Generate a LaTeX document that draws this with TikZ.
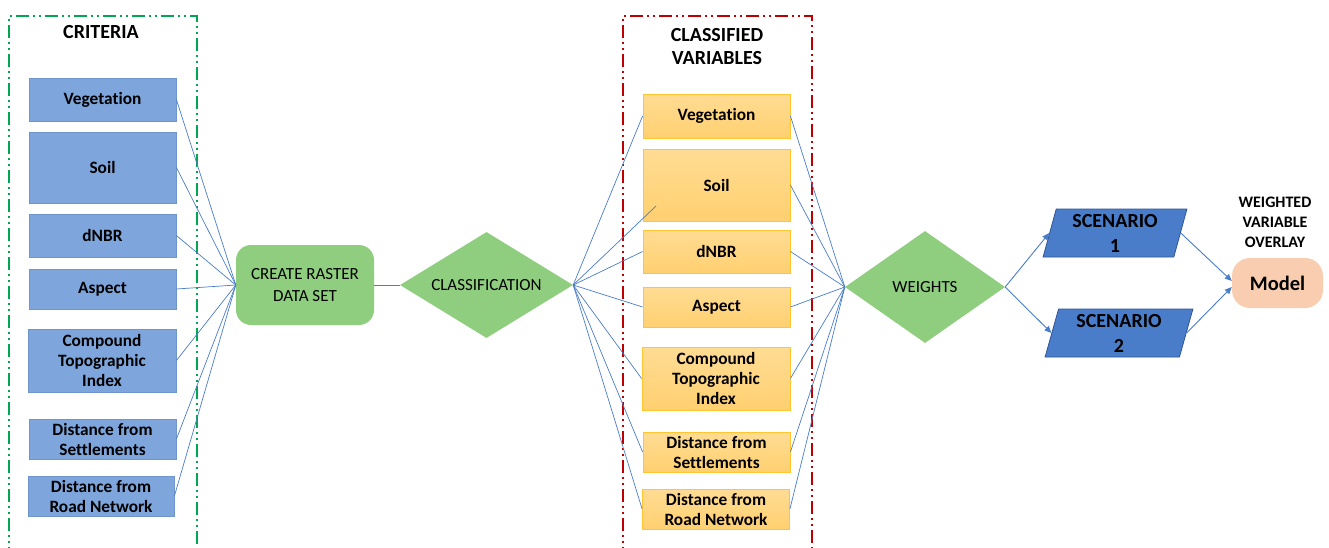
\documentclass[tikz,border=0pt]{standalone}
\usepackage{fontspec}
\setmainfont{Carlito}[Ligatures=NoCommon]
\usetikzlibrary{shapes.geometric,arrows.meta}
\definecolor{critblue}{HTML}{7EA6DC}
\definecolor{critborder}{HTML}{6E96CC}
\definecolor{classorange}{HTML}{FFD070}
\definecolor{classborder}{HTML}{FFC631}
\definecolor{procgreen}{HTML}{8FCE7F}
\definecolor{scenblue}{HTML}{4A7DC9}
\definecolor{scenborder}{HTML}{2F5597}
\definecolor{modelpeach}{HTML}{F8CDB0}
\definecolor{linkblue}{HTML}{4A7DC9}
\definecolor{framegreen}{HTML}{00A651}
\definecolor{framered}{HTML}{C00000}
\tikzset{
  x=1pt, y=-1pt,
  boxlabel/.style={font=\fontsize{17.3}{20}\selectfont\bfseries, align=center, inner sep=0pt},
  critbox/.style={boxlabel, rectangle, fill=critblue, draw=critborder, line width=0.8pt},
  classbox/.style={boxlabel, rectangle, top color=classorange!75!white, bottom color=classorange, draw=classborder, line width=0.8pt},
  proc/.style={font=\fontsize{17}{22}\selectfont, align=center, fill=procgreen, draw=none, inner sep=0pt},
  decide/.style={proc, diamond},
  scen/.style={boxlabel, font=\fontsize{20}{25}\selectfont\bfseries, trapezium, trapezium stretches=true, trapezium left angle=76, trapezium right angle=104, fill=scenblue, draw=scenborder, line width=0.8pt},
  title/.style={font=\fontsize{20}{23}\selectfont\bfseries, align=center, inner sep=0pt},
  link/.style={draw=linkblue, line width=0.7pt},
  flow/.style={draw=linkblue, line width=0.9pt, -{Triangle[length=7pt,width=6pt]}},
  dashframe/.style={line width=2pt, dash pattern=on 13pt off 4pt on 2pt off 4pt on 2pt off 4pt},
}
\begin{document}
\begin{tikzpicture}
\clip (0,0) rectangle (1329,547);
\fill[white] (0,0) rectangle (1329,547);
% frames
\draw[dashframe, framegreen] (9,560) -- (9,16) -- (197,16) -- (197,560);
\draw[dashframe, framered] (623,560) -- (623,16) -- (812,16) -- (812,560);
\node[title] (crit) at (101,32) {CRITERIA};
\node[title] (clv) at (717,47) {CLASSIFIED\\VARIABLES};
% criteria boxes
\node[critbox, minimum width=147pt, minimum height=43pt] (c1) at (102.5,99.5) {Vegetation};
\node[critbox, minimum width=147pt, minimum height=71pt] (c2) at (102.5,167.5) {Soil};
\node[critbox, minimum width=147pt, minimum height=43pt] (c3) at (102.5,235.5) {dNBR};
\node[critbox, minimum width=147pt, minimum height=40pt] (c4) at (102.5,289) {Aspect};
\node[critbox, minimum width=148pt, minimum height=63pt] (c5) at (102,360.5) {Compound\\Topographic\\Index};
\node[critbox, minimum width=147pt, minimum height=40pt] (c6) at (102.5,439) {Distance from\\Settlements};
\node[critbox, minimum width=146pt, minimum height=40pt] (c7) at (101,496) {Distance from\\Road Network};
% create raster
\node[proc, rounded corners=15pt, minimum width=138pt, minimum height=80pt] (cr) at (305,285) {CREATE RASTER\\DATA SET};
% classification
\node[decide, aspect=1.63, minimum width=173pt, minimum height=106pt] (cl) at (486.5,285) {CLASSIFICATION};
% classified boxes
\node[classbox, minimum width=147pt, minimum height=44pt] (o1) at (716.5,116) {Vegetation};
\node[classbox, minimum width=147pt, minimum height=72pt] (o2) at (716.5,185) {Soil};
\node[classbox, minimum width=147pt, minimum height=43pt] (o3) at (716.5,251.5) {dNBR};
\node[classbox, minimum width=147pt, minimum height=40pt] (o4) at (716.5,307) {Aspect};
\node[classbox, minimum width=148pt, minimum height=63pt] (o5) at (716,378.5) {Compound\\Topographic\\Index};
\node[classbox, minimum width=147pt, minimum height=40pt] (o6) at (716.5,452) {Distance from\\Settlements};
\node[classbox, minimum width=147pt, minimum height=40pt] (o7) at (716,509) {Distance from\\Road Network};
\coordinate (o2in) at (656,206);
% weights
\node[decide, aspect=1.43, minimum width=160pt, minimum height=112pt] (w) at (925,287) {WEIGHTS};
% scenarios
\node[scen, minimum width=144pt, minimum height=48pt] (s1) at (1115,233) {SCENARIO\\1};
\node[scen, minimum width=148pt, minimum height=48pt] (s2) at (1119,333) {SCENARIO\\2};
% model
\node[boxlabel, font=\fontsize{20.5}{23}\selectfont\bfseries, fill=modelpeach, rounded corners=18pt, minimum width=91pt, minimum height=50pt] (m) at (1277.5,283) {Model};
\node[title, font=\fontsize{16}{20}\selectfont\bfseries] (wvo) at (1275,222) {WEIGHTED\\VARIABLE\\OVERLAY};
% links criteria -> create raster
\foreach \n in {c1,c2,c3,c4,c5,c6,c7} \draw[link] (\n.east) -- (cr.west);
\draw[link] (cr.east) -- (cl.west);
% classification -> classified
\foreach \n in {o1,o3,o4,o5,o6,o7} \draw[link] (cl.east) -- (\n.west);
\draw[link] (cl.east) -- (o2in);
% classified -> weights
\foreach \n in {o1,o2,o3,o4,o5,o6,o7} \draw[link] (\n.east) -- (w.west);
% weights -> scenarios
\draw[flow] (w.east) -- (s1.left side);
\draw[flow] (w.east) -- (s2.left side);
\draw[flow] (s1.right side) -- ([yshift=2pt]m.west);
\draw[flow] (s2.right side) -- ([yshift=-4pt]m.west);
\end{tikzpicture}
\end{document}
